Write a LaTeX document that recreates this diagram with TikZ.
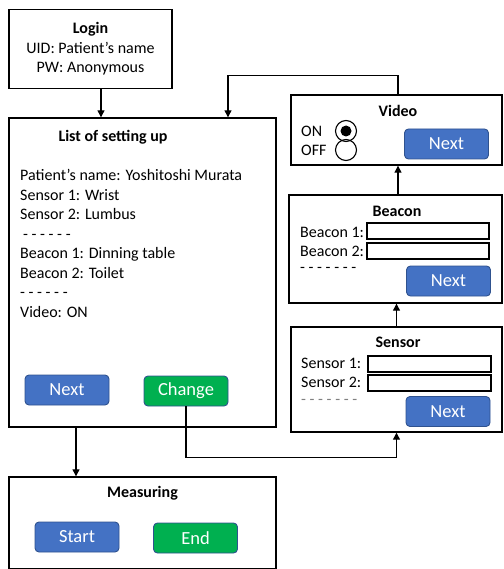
\documentclass[tikz,border=0pt]{standalone}
\usepackage{fontspec}
\setmainfont{Carlito}
\usepackage{xcolor}
\usetikzlibrary{arrows.meta}
\definecolor{btnblue}{HTML}{4472C4}
\definecolor{btngreen}{HTML}{00B050}
\definecolor{btnedge}{HTML}{2F528F}

\begin{document}
\begin{tikzpicture}[x=1pt,y=-1pt,
  font=\fontsize{16}{19.5}\selectfont,
  screen/.style={draw, line width=1.4pt, inner sep=0pt, minimum width=#1},
  button/.style={draw=btnedge, line width=0.9pt, rounded corners=4pt, text=white,
    minimum width=84pt, minimum height=30pt, inner sep=0pt,
    font=\fontsize{18.5}{20}\selectfont},
  bluebtn/.style={button, fill=btnblue},
  greenbtn/.style={button, fill=btngreen},
  field/.style={draw, line width=1.1pt, minimum width=122pt, minimum height=16pt, inner sep=0pt},
  radio/.style={draw, circle, line width=1.1pt, minimum size=21pt, inner sep=0pt},
  arr/.style={line width=1.2pt, -{Triangle[length=7pt,width=7pt]}}]
\useasboundingbox (0,0) rectangle (503,569);

% Login screen
\node[screen=163pt, minimum height=79pt, align=center] (login) at (90.5,49)
  {\textbf{Login}\\UID: Patient’s name\\PW: Anonymous};

% List of setting up
\node[screen=267pt, minimum height=309pt] (setup) at (142.5,272.5) {};
\node (setuptitle) at (113,137) {\textbf{List of setting up}};
\node[anchor=west, align=left, inner sep=0pt] (setuptext) at (20,243.5)
  {Patient’s name: Yoshitoshi Murata\\Sensor 1: Wrist\\Sensor 2: Lumbus\\
   \hspace{3pt}- - - - - -\\Beacon 1: Dinning table\\Beacon 2: Toilet\\- - - - - -\\Video: ON};
\node[bluebtn] (setupnext) at (67,390) {Next};
\node[greenbtn] (change) at (186,391) {Change};

% Measuring
\node[screen=267pt, minimum height=92pt] (measuring) at (142.5,523) {};
\node (meastitle) at (142.5,493) {\textbf{Measuring}};
\node[bluebtn] (start) at (77,537) {Start};
\node[greenbtn] (stop) at (195.5,538) {End};

% Video
\node[screen=211pt, minimum height=70pt] (video) at (396.5,130) {};
\node (videotitle) at (398,111) {\textbf{Video}};
\node[anchor=west, inner sep=0pt] (on) at (301,131) {ON};
\node[anchor=west, inner sep=0pt] (off) at (301,150) {OFF};
\node[radio] (radioon) at (346,131) {};
\fill (radioon.center) circle (5.5);
\node[radio] (radiooff) at (346,150) {};
\node[bluebtn] (videonext) at (446.5,144) {Next};

% Beacon
\node[screen=213pt, minimum height=108pt] (beacon) at (395.5,249) {};
\node (beacontitle) at (397,211) {\textbf{Beacon}};
\node[anchor=west, inner sep=0pt] (beaconA) at (300,232) {Beacon 1:};
\node[anchor=west, inner sep=0pt] (beaconB) at (300,251) {Beacon 2:};
\node[field] (beaconfieldA) at (428,231) {};
\node[field] (beaconfieldB) at (428,251) {};
\node[anchor=west, inner sep=0pt] (beacondash) at (300,270) {- - - - - - -};
\node[bluebtn] (beaconnext) at (448.5,281) {Next};

% Sensor
\node[screen=211pt, minimum height=105pt] (sensor) at (396.5,379.5) {};
\node (sensortitle) at (398,342) {\textbf{Sensor}};
\node[anchor=west, inner sep=0pt] (sensorA) at (301,363) {Sensor 1:};
\node[anchor=west, inner sep=0pt] (sensorB) at (301,382) {Sensor 2:};
\node[field, minimum width=123pt] (sensorfieldA) at (429.5,364) {};
\node[field, minimum width=123pt] (sensorfieldB) at (429.5,383) {};
\node[anchor=west, inner sep=0pt, text=gray] (sensordash) at (301,402) {- - - - - - -};
\node[bluebtn] (sensornext) at (448,411.5) {Next};

% Connectors
\draw[arr] ([xshift=10.5pt]login.south) -- ([xshift=10.5pt]login.south |- setup.north);
\draw[arr] ([xshift=-66.5pt]setup.south) -- ([xshift=-66.5pt]setup.south |- measuring.north);
\draw[arr] (change.south) -- ++(0,51) -| (sensor.south);
\draw[arr] (sensor.north) -- (sensor.north |- beacon.south);
\draw[arr] ([xshift=2.5pt]beacon.north) -- ([xshift=2.5pt]beacon.north |- video.south);
\draw[arr] ([xshift=1.5pt]video.north) -- ++(0,-19) -| ([xshift=85.5pt]setup.north);
\end{tikzpicture}
\end{document}
